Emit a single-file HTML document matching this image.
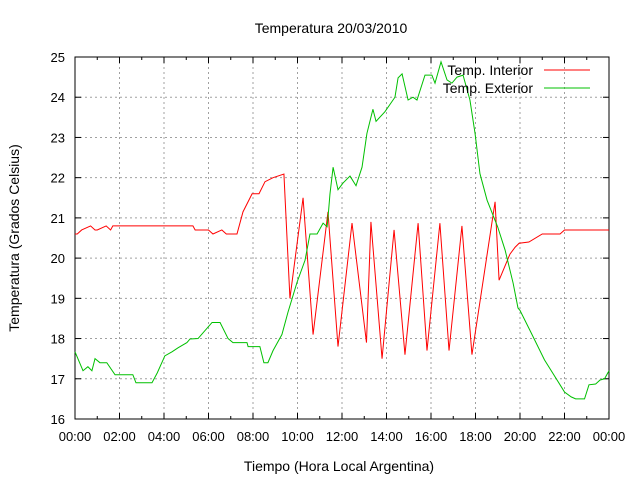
<!DOCTYPE html>
<html><head><meta charset="utf-8"><style>
body{margin:0;background:#fff}
svg text{font-family:"Liberation Sans",sans-serif;fill:#000}
</style></head><body>
<svg id="chart" width="640" height="480" xmlns="http://www.w3.org/2000/svg">
<rect width="640" height="480" fill="#fff"/>
<text x="331" y="33" font-size="14" text-anchor="middle">Temperatura 20/03/2010</text>
<g id="grid"></g><g id="axes"></g><g id="series"></g>
<text x="339" y="471" font-size="14" text-anchor="middle">Tiempo (Hora Local Argentina)</text>
<text transform="translate(19,238) rotate(-90)" font-size="14" text-anchor="middle">Temperatura (Grados Celsius)</text>
<g>
<text x="533" y="75" font-size="14" text-anchor="end">Temp. Interior</text>
<line x1="544" y1="70" x2="590" y2="70" stroke="#ff0000"/>
<text x="533" y="93" font-size="14" text-anchor="end">Temp. Exterior</text>
<line x1="544" y1="88" x2="590" y2="88" stroke="#00c000"/>
</g>
</svg>
<script>
const xTickLabels=["00:00","02:00","04:00","06:00","08:00","10:00","12:00","14:00","16:00","18:00","20:00","22:00","00:00"];
const yTicks=[16,17,18,19,20,21,22,23,24,25];
const interiorHours=[0,0.1,0.3,0.7,0.9,1.0,1.4,1.6,1.7,1.9,2.0,5.3,5.4,6.0,6.2,6.6,6.8,7.2,7.28,7.55,7.96,8.27,8.54,8.9,9.39,9.45,9.66,10.25,10.70,11.37,11.82,12.45,13.10,13.30,13.80,14.34,14.83,15.42,15.82,16.40,16.81,17.39,17.84,18.88,19.06,19.55,19.78,19.96,20.4,21.0,21.8,22.0,24.0];
const interiorValues=[20.6,20.6,20.7,20.8,20.7,20.7,20.8,20.7,20.8,20.8,20.8,20.8,20.7,20.7,20.6,20.7,20.6,20.6,20.6,21.15,21.6,21.6,21.9,22.0,22.09,21.4,19.0,21.5,18.1,21.15,17.8,20.87,17.9,20.9,17.5,20.7,17.6,20.87,17.7,20.87,17.7,20.8,17.6,21.4,19.45,20.1,20.27,20.37,20.4,20.6,20.6,20.7,20.7];
const exteriorHours=[0,0.36,0.58,0.76,0.9,1.12,1.43,1.8,2.6,2.74,3.46,3.7,4.04,4.36,4.63,5.03,5.17,5.53,5.75,6.16,6.52,6.88,7.1,7.73,7.78,8.31,8.49,8.67,8.9,9.3,9.57,9.98,10.34,10.56,10.88,11.15,11.33,11.37,11.46,11.6,11.82,12.05,12.36,12.63,12.9,13.12,13.39,13.53,13.93,14.38,14.52,14.7,14.97,15.19,15.37,15.73,16.04,16.18,16.45,16.72,16.94,17.17,17.44,17.75,17.98,18.2,18.52,19.0,19.33,19.69,19.91,20.0,20.45,21.1,21.8,22.0,22.3,22.5,22.9,23.1,23.4,23.6,23.8,24.0];
const exteriorValues=[17.67,17.2,17.3,17.2,17.5,17.4,17.4,17.1,17.1,16.9,16.9,17.15,17.57,17.67,17.77,17.9,17.99,18.0,18.14,18.4,18.4,18.0,17.9,17.9,17.8,17.8,17.4,17.4,17.7,18.1,18.65,19.4,19.95,20.6,20.6,20.87,20.78,21.0,21.6,22.26,21.7,21.87,22.04,21.8,22.26,23.1,23.7,23.4,23.64,24.0,24.48,24.58,23.93,24.0,23.93,24.55,24.55,24.35,24.88,24.43,24.35,24.5,24.55,23.93,23.1,22.1,21.44,20.77,20.2,19.38,18.76,18.7,18.2,17.47,16.85,16.67,16.55,16.5,16.5,16.85,16.87,16.97,17.0,17.2];
const X0=75,X1=609,Y0=419,Y1=57;
const xs=h=>X0+(X1-X0)*h/24;
const ys=v=>Y0-(Y0-Y1)*(v-16)/9;
const NS="http://www.w3.org/2000/svg";
function mk(tag,attrs,parent){const e=document.createElementNS(NS,tag);for(const k in attrs)e.setAttribute(k,attrs[k]);parent.appendChild(e);return e;}
const grid=document.getElementById('grid'),axes=document.getElementById('axes'),series=document.getElementById('series');
xTickLabels.forEach((l,i)=>{const x=xs(i*2);
 if(i>0&&i<12){const g=mk('line',{x1:x,y1:Y0,x2:x,y2:Y1,stroke:'#a0a0a0','stroke-dasharray':'2,3'},grid);
 
 }
 mk('line',{x1:x,y1:Y0,x2:x,y2:Y0-6,stroke:'#000'},axes);
 mk('line',{x1:x,y1:Y1,x2:x,y2:Y1+6,stroke:'#000'},axes);
 if(i<12){const xm=xs(i*2+1);mk('line',{x1:xm,y1:Y0,x2:xm,y2:Y0-3,stroke:'#000'},axes);mk('line',{x1:xm,y1:Y1,x2:xm,y2:Y1+3,stroke:'#000'},axes);}
 const t=mk('text',{x:x,y:Y0+22,'font-size':'13','text-anchor':'middle'},axes);t.textContent=l;
 
 
});
yTicks.forEach(v=>{const y=ys(v);
 if(v>16&&v<25){const g=mk('line',{x1:X0,y1:y,x2:X1,y2:y,stroke:'#a0a0a0','stroke-dasharray':'2,3'},grid);
 
 }
 mk('line',{x1:X0,y1:y,x2:X0+6,y2:y,stroke:'#000'},axes);
 mk('line',{x1:X1,y1:y,x2:X1-6,y2:y,stroke:'#000'},axes);
 const t=mk('text',{x:X0-10,y:y+5,'font-size':'13','text-anchor':'end'},axes);t.textContent=v;
 
 
});
const b=mk('rect',{x:X0,y:Y1,width:X1-X0,height:Y0-Y1,fill:'none',stroke:'#000'},axes);


function line(hs,vs,color,name){const p=mk('polyline',{points:hs.map((h,i)=>xs(h)+','+ys(vs[i])).join(' '),fill:'none',stroke:color,'stroke-width':'1'},series);
 
 }
line(interiorHours,interiorValues,'#ff0000','interior-temperature-line');
line(exteriorHours,exteriorValues,'#00c000','exterior-temperature-line');
</script>
</body></html>
